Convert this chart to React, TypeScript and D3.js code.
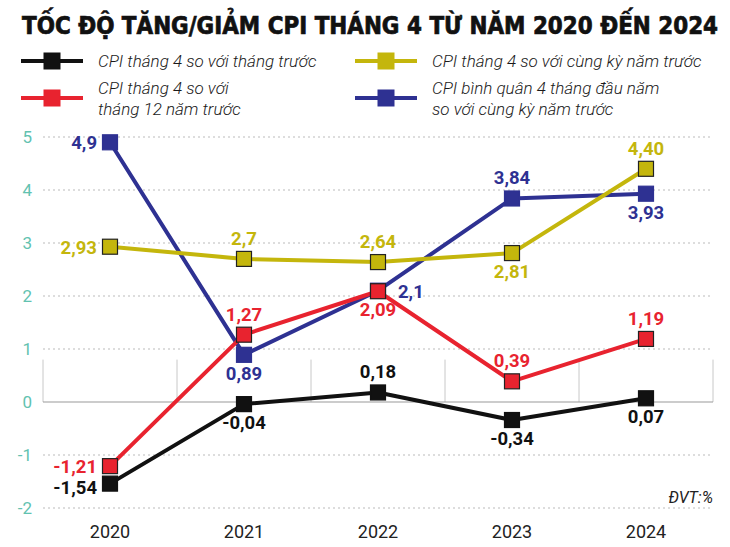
import React, { useLayoutEffect, useRef, useState } from "react";
import * as d3 from "d3";

const years = ["2020", "2021", "2022", "2023", "2024"];
const yTicks = [-2, -1, 0, 1, 2, 3, 4, 5];
const momValues = [-1.54, -0.04, 0.18, -0.34, 0.07];
const vsDecValues = [-1.21, 1.27, 2.09, 0.39, 1.19];
const yoyValues = [2.93, 2.7, 2.64, 2.81, 4.4];
const avgValues = [4.9, 0.89, 2.1, 3.84, 3.93];
const momLabels = ["-1,54", "-0,04", "0,18", "-0,34", "0,07"];
const vsDecLabels = ["-1,21", "1,27", "2,09", "0,39", "1,19"];
const yoyLabels = ["2,93", "2,7", "2,64", "2,81", "4,40"];
const avgLabels = ["4,9", "0,89", "2,1", "3,84", "3,93"];
// label placement per point: l = left, a = above, b = below, r = right
const momPos = ["l", "b", "a", "b", "b"];
const vsDecPos = ["l", "a", "b", "a", "a"];
const yoyPos = ["l", "a", "a", "b", "a"];
const avgPos = ["l", "b", "r", "a", "b"];

const BLACK = "#111111";
const RED = "#e8232f";
const YELLOW = "#c4b60c";
const BLUE = "#2e3192";
const TEAL = "#62c2b0";

const W = 730;
const H = 547;

export default function App() {
  const titleRef = useRef<SVGTextElement>(null);
  const [titleScale, setTitleScale] = useState(0.85);
  useLayoutEffect(() => {
    if (titleRef.current) {
      const w = titleRef.current.getBBox().width;
      if (w > 0) setTitleScale(696 / w);
    }
  }, []);

  const x = d3.scaleBand<string>().domain(years).range([43, 713]);
  const y = d3.scaleLinear().domain([-2, 5]).range([508, 137]);
  const cx = (d: string) => (x(d) as number) + x.bandwidth() / 2;
  const line = d3
    .line<number>()
    .x((_, i) => cx(years[i]))
    .y((v) => y(v));

  const series = [
    { values: avgValues, labels: avgLabels, pos: avgPos, color: BLUE, stroke: BLUE, textColor: BLUE, dy: 0 },
    { values: yoyValues, labels: yoyLabels, pos: yoyPos, color: YELLOW, stroke: "#222", textColor: YELLOW, dy: 0 },
    { values: vsDecValues, labels: vsDecLabels, pos: vsDecPos, color: RED, stroke: "#222", textColor: RED, dy: 0 },
    { values: momValues, labels: momLabels, pos: momPos, color: BLACK, stroke: BLACK, textColor: BLACK, dy: 3 },
  ];

  const ms = 15;

  const legend = [
    { color: BLACK, stroke: BLACK, x: 21, y: 61, lines: ["CPI tháng 4 so với tháng trước"] },
    { color: YELLOW, stroke: YELLOW, x: 355, y: 61, lines: ["CPI tháng 4 so với cùng kỳ năm trước"] },
    { color: RED, stroke: RED, x: 21, y: 98, lines: ["CPI tháng 4 so với", "tháng 12 năm trước"] },
    { color: BLUE, stroke: BLUE, x: 355, y: 98, lines: ["CPI bình quân 4 tháng đầu năm", "so với cùng kỳ năm trước"] },
  ];

  return (
    <svg width={W} height={H} style={{ position: "absolute", left: 0, top: 0, background: "#fff" }}>
      <rect x={0} y={0} width={W} height={H} fill="#fff" />
      <text
        ref={titleRef}
        transform={`translate(22,34) scale(${titleScale},1)`}
        fontFamily="'DejaVu Sans Condensed', 'DejaVu Sans', sans-serif"
        fontWeight="bold"
        fontSize={25}
        fill="#111"
        stroke="#111"
        strokeWidth={0.7}
      >
        TỐC ĐỘ TĂNG/GIẢM CPI THÁNG 4 TỪ NĂM 2020 ĐẾN 2024
      </text>

      {legend.map((lg, i) => (
        <g key={i}>
          <line x1={lg.x} x2={lg.x + 62} y1={lg.y} y2={lg.y} stroke={lg.color} strokeWidth={4} />
          <rect x={lg.x + 31 - 8} y={lg.y - 8} width={16} height={16} fill={lg.color} stroke={lg.stroke} strokeWidth={1} />
          {lg.lines.map((t, j) => {
            const ty = lg.lines.length === 1 ? lg.y + 6 : lg.y - 10 + j * 21 + 6;
            const tx = lg.x + 77;
            return (
              <text
                key={j}
                x={tx}
                y={ty}
                fontFamily="Roboto, sans-serif"
                fontStyle="italic"
                fontWeight={300}
                fontSize={17}
                fill="#1a1a1a"
              >
                {t}
              </text>
            );
          })}
        </g>
      ))}

      {/* gridlines */}
      {yTicks
        .filter((t) => t !== 0)
        .map((t) => (
          <line key={t} x1={43} x2={713} y1={y(t)} y2={y(t)} stroke="#bbb" strokeWidth={1} strokeDasharray="2,3" />
        ))}
      {/* category separators */}
      {[...years.map((d) => x(d) as number), 713].map((px, i) => (
        <line key={i} x1={px} x2={px} y1={y(0.8)} y2={y(0)} stroke="#c8c8c8" strokeWidth={1} />
      ))}
      <line x1={43} x2={713} y1={y(0)} y2={y(0)} stroke="#999" strokeWidth={1.2} />

      {/* y ticks */}
      {yTicks.map((t) => (
        <text key={t} x={32} y={y(t) + 6} textAnchor="end" fontFamily="Roboto, sans-serif" fontSize={17} fill={TEAL}>
          {t}
        </text>
      ))}
      {/* x ticks */}
      {years.map((d) => (
        <text key={d} x={cx(d)} y={538} textAnchor="middle" fontFamily="Roboto, sans-serif" fontSize={18} fill="#222">
          {d}
        </text>
      ))}

      {/* series */}
      {series.map((s, si) => (
        <g key={si}>
          <path d={line(s.values) as string} fill="none" stroke={s.color} strokeWidth={4} strokeLinejoin="round" />
        </g>
      ))}
      {series.map((s, si) => (
        <g key={"m" + si}>
          {s.values.map((v, i) => (
            <rect
              key={i}
              x={cx(years[i]) - ms / 2}
              y={y(v) - ms / 2}
              width={ms}
              height={ms}
              fill={s.color}
              stroke={s.stroke}
              strokeWidth={1.2}
            />
          ))}
        </g>
      ))}
      {series.map((s, si) => (
        <g key={"l" + si}>
          {s.values.map((v, i) => {
            const px = cx(years[i]);
            const py = y(v);
            const p = s.pos[i];
            let tx = px;
            let ty = py;
            let anchor: "start" | "middle" | "end" = "middle";
            if (p === "l") {
              tx = px - 13;
              ty = py + 7 + s.dy;
              anchor = "end";
            } else if (p === "r") {
              tx = px + 20;
              ty = py + 7;
              anchor = "start";
            } else if (p === "a") {
              ty = py - 14;
            } else {
              ty = py + 25;
            }
            return (
              <text
                key={i}
                x={tx}
                y={ty}
                textAnchor={anchor}
                fontFamily="Roboto, sans-serif"
                fontWeight="bold"
                fontSize={18.5}
                fill={s.textColor}
              >
                {s.labels[i]}
              </text>
            );
          })}
        </g>
      ))}

      <text
        x={713}
        y={503}
        textAnchor="end"
        fontFamily="Roboto, sans-serif"
        fontStyle="italic"
        fontSize={16}
        fill="#222"
      >
        ĐVT:%
      </text>
    </svg>
  );
}
